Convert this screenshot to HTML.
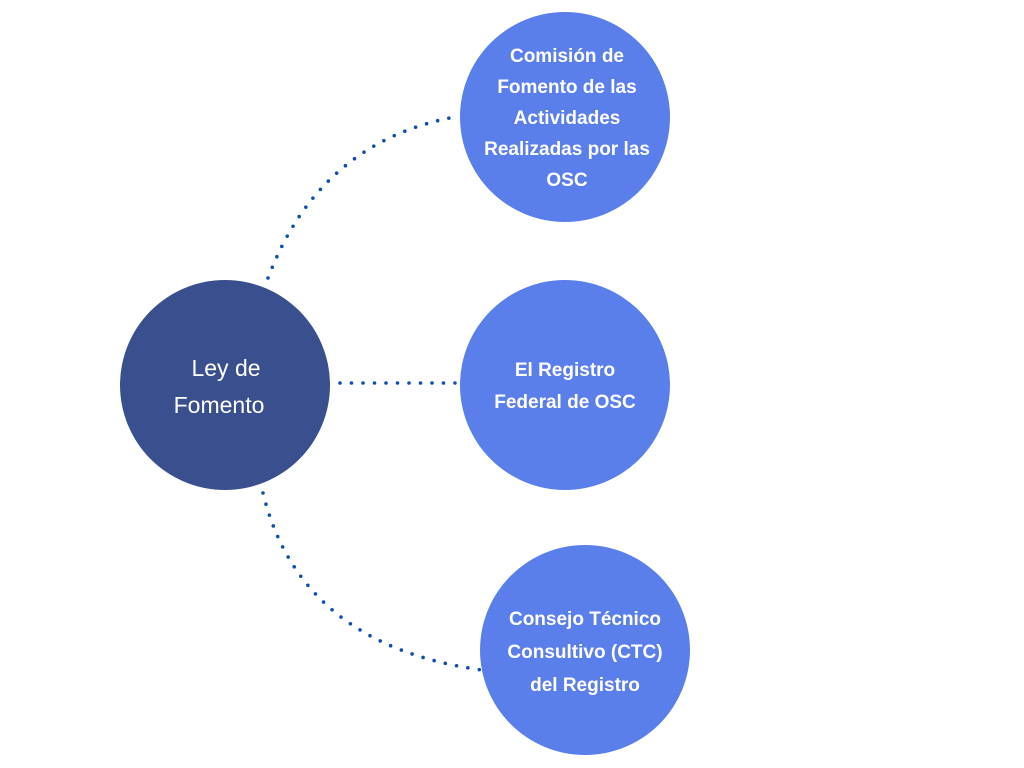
<!DOCTYPE html>
<html><head><meta charset="utf-8"><style>
body{margin:0;background:#fff;}
svg{display:block}
</style></head><body>
<svg width="1024" height="768" viewBox="0 0 1024 768" xmlns="http://www.w3.org/2000/svg">
<g fill="none" stroke="#0b4db0" stroke-width="3.6" stroke-linecap="round" stroke-dasharray="0 11.5">
<path d="M268,278 Q320,140 460,116"/>
<path d="M340,383 L456,383"/>
<path d="M263,493 Q300,645 482,670"/>
</g>
<circle cx="225" cy="385" r="105" fill="#3a4f8e"/>
<circle cx="565" cy="117" r="105" fill="#5b7fea"/>
<circle cx="565" cy="385" r="105" fill="#5b7fea"/>
<circle cx="585" cy="650" r="105" fill="#5b7fea"/>
<g font-family="Liberation Sans, sans-serif" text-anchor="middle">
<text x="226" y="376" fill="#fff" font-size="23">Ley de</text>
<text x="219" y="413" fill="#fff" font-size="23">Fomento</text>
<g fill="#fff" font-size="19" font-weight="bold">
<text x="567" y="62">Comisión de</text>
<text x="567" y="93">Fomento de las</text>
<text x="567" y="124">Actividades</text>
<text x="567" y="155">Realizadas por las</text>
<text x="567" y="186">OSC</text>
<text x="565" y="376">El Registro</text>
<text x="565" y="408">Federal de OSC</text>
<text x="585" y="625">Consejo Técnico</text>
<text x="585" y="658">Consultivo (CTC)</text>
<text x="585" y="691">del Registro</text>
</g>
</g>
</svg>
</body></html>
